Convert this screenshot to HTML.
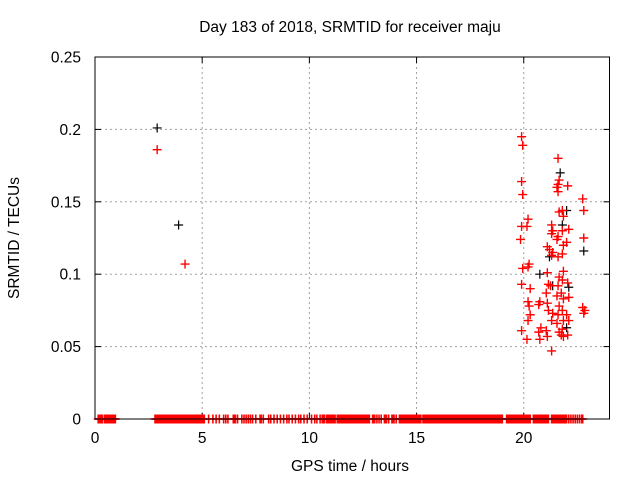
<!DOCTYPE html>
<html><head><meta charset="utf-8">
<style>
html,body{margin:0;padding:0;background:#fff;}
svg{display:block;font-family:"Liberation Sans",sans-serif;}
</style></head>
<body>
<svg id="chart" width="640" height="480" viewBox="0 0 640 480" xmlns="http://www.w3.org/2000/svg">
<rect x="0" y="0" width="640" height="480" fill="#fff"/>
<text x="350" y="32" font-size="15.5" text-anchor="middle">Day 183 of 2018, SRMTID for receiver maju</text>
<text transform="translate(19,238) rotate(-90)" font-size="15.5" text-anchor="middle">SRMTID / TECUs</text>
<text x="350" y="471" font-size="15.5" text-anchor="middle">GPS time / hours</text>
<g id="grid"></g>
<g id="xticks"></g>
<g id="yticks"></g>
<g id="zeroSeries"></g>
<g id="blackSeries"></g>
<g id="redSeries"></g>
<rect x="95" y="57" width="514.5" height="362" fill="none" stroke="#000" stroke-width="1"/>
</svg>
<script>
const xTickVals = [0, 5, 10, 15, 20];
const xTickLabels = ["0", "5", "10", "15", "20"];
const yTickVals = [0, 0.05, 0.1, 0.15, 0.2, 0.25];
const yTickLabels = ["0", "0.05", "0.1", "0.15", "0.2", "0.25"];

const zeroTimes = [0.15,0.2,0.25,0.3,0.35,0.45,0.5,0.55,0.6,0.65,0.7,0.75,0.8,0.85,0.9,0.95,
2.8,2.85,2.9,2.95,3.0,3.05,3.1,3.15,3.2,3.25,3.3,3.35,3.4,3.45,3.5,3.55,3.6,3.65,3.7,3.75,3.8,3.85,3.9,3.95,4.0,4.05,4.1,4.15,4.2,4.25,4.3,4.35,4.4,4.45,4.5,4.55,4.6,4.65,4.7,4.75,4.8,4.85,4.9,4.95,5.0,5.05,5.1,
5.3,5.5,5.65,5.8,6.0,6.1,6.2,6.45,6.5,6.55,6.65,6.85,6.95,7.05,7.15,7.25,7.35,7.5,7.7,7.75,7.85,8.1,8.2,8.35,8.5,8.65,8.8,8.95,9.05,9.2,9.35,9.5,9.6,9.75,9.9,10.1,10.25,10.35,10.5,10.6,10.65,10.7,10.8,10.85,10.9,10.95,11.0,11.05,11.1,11.15,11.2,
11.3,11.35,11.4,11.45,11.5,11.55,11.6,11.65,11.7,11.75,11.8,11.85,11.9,11.95,12.0,12.05,12.1,12.15,12.2,12.25,12.3,12.35,12.4,12.45,12.5,12.55,12.6,12.65,12.7,12.75,12.8,12.95,13.0,13.05,13.15,13.25,13.35,13.5,13.55,13.6,13.7,13.85,13.9,13.95,14.05,14.2,14.25,14.3,14.35,14.4,14.45,14.5,14.55,14.6,14.65,14.7,14.75,14.8,14.85,14.9,14.95,15.0,15.05,15.1,15.15,15.2,
15.3,15.35,15.4,15.45,15.5,15.55,15.6,15.65,15.7,15.75,15.8,15.85,15.9,15.95,16.0,16.05,16.1,16.15,16.2,16.25,16.3,16.35,16.4,16.45,16.5,16.55,16.6,16.65,16.7,16.75,16.8,16.85,16.9,16.95,17.0,17.05,17.1,17.15,17.2,17.25,17.3,17.35,17.4,17.45,17.5,17.55,17.6,17.65,17.7,17.75,17.8,17.85,17.9,17.95,18.0,18.05,18.1,18.15,18.2,18.25,18.3,18.35,18.4,18.45,18.5,18.55,18.6,18.65,18.7,18.75,18.8,18.85,18.9,18.95,19.0,
19.2,19.25,19.3,19.35,19.4,19.45,19.5,19.55,19.6,19.65,19.7,19.75,19.8,19.85,19.9,19.95,20.0,20.05,20.1,20.15,20.2,20.25,20.3,20.45,20.5,20.55,20.6,20.65,20.7,20.75,20.8,20.85,20.9,20.95,21.0,21.05,21.1,21.15,21.3,21.35,21.4,21.45,21.5,21.55,21.6,21.65,21.7,21.75,21.8,21.85,21.9,21.95,22.0,22.1,22.2,22.3,22.4,22.5,22.6,22.7,22.75];

const redTimes = [2.9,4.2,
19.9,19.95,19.9,19.95,19.9,19.85,19.95,19.9,19.9,
20.2,20.15,20.25,20.2,20.3,20.2,20.25,20.3,20.2,20.15,
20.75,20.7,20.8,20.7,20.75,
21.1,21.15,21.05,21.1,21.15,21.05,21.1,21.1,21.2,
21.3,21.35,21.3,21.35,21.3,21.25,21.35,21.3,21.3,
21.6,21.65,21.6,21.55,21.6,21.65,21.6,21.55,21.6,21.65,21.6,21.55,21.65,21.6,21.55,21.65,
21.8,21.85,21.8,21.85,21.8,21.85,21.8,21.75,21.85,21.8,21.85,21.8,21.75,21.85,
22.05,22.1,22.0,22.05,22.1,22.0,22.1,22.05,
22.75,22.8,22.8,22.75,22.8,22.85];
const redValues = [0.186,0.107,
0.195,0.189,0.164,0.155,0.133,0.124,0.104,0.093,0.061,
0.138,0.133,0.107,0.105,0.090,0.081,0.078,0.072,0.068,0.055,
0.081,0.079,0.063,0.060,0.055,
0.101,0.093,0.087,0.080,0.075,0.061,0.057,0.119,0.117,
0.134,0.130,0.128,0.115,0.113,0.092,0.073,0.068,0.047,
0.180,0.165,0.162,0.160,0.157,0.143,0.126,0.124,0.112,0.098,0.092,0.085,0.078,0.072,0.066,0.060,
0.144,0.140,0.130,0.120,0.114,0.102,0.096,0.087,0.083,0.075,0.068,0.062,0.058,0.057,
0.161,0.131,0.122,0.094,0.084,0.072,0.068,0.058,
0.152,0.144,0.125,0.077,0.073,0.075];

const blackTimes = [2.9,3.9,20.75,21.2,21.35,21.7,21.8,22.0,22.1,22.0,22.8];
const blackValues = [0.201,0.134,0.100,0.112,0.092,0.170,0.134,0.144,0.091,0.063,0.116];

const X0 = 95, X1 = 609.5, Y0 = 419, Y1 = 57, XMAX = 24, YMAX = 0.25;
const sx = v => X0 + v / XMAX * (X1 - X0);
const sy = v => Y0 - v / YMAX * (Y0 - Y1);
const NS = "http://www.w3.org/2000/svg";
function mk(tag, attrs, parent) {
  const e = document.createElementNS(NS, tag);
  for (const k in attrs) e.setAttribute(k, attrs[k]);
  parent.appendChild(e);
  return e;
}
const grid = document.getElementById('grid');
const xg = document.getElementById('xticks');
const yg = document.getElementById('yticks');

xTickVals.forEach((v, i) => {
  const x = sx(v);
  if (v > 0) {
    const g = mk('line', {x1: x, x2: x, y1: Y1, y2: Y0, stroke: '#a0a0a0', 'stroke-dasharray': '2,3', 'stroke-width': 1}, grid);
    
    
  }
  const t1 = mk('line', {x1: x, x2: x, y1: Y0, y2: Y0 - 6, stroke: '#000'}, xg);
  
  
  const t2 = mk('line', {x1: x, x2: x, y1: Y1, y2: Y1 + 6, stroke: '#000'}, xg);
  
  
  const l = mk('text', {x: x, y: Y0 + 24, 'font-size': 15.5, 'text-anchor': 'middle'}, xg);
  l.textContent = xTickLabels[i];
  
  
});
yTickVals.forEach((v, i) => {
  const y = sy(v);
  if (v > 0 && v < YMAX) {
    const g = mk('line', {x1: X0, x2: X1, y1: y, y2: y, stroke: '#a0a0a0', 'stroke-dasharray': '2,3', 'stroke-width': 1}, grid);
    
    
  }
  const t1 = mk('line', {x1: X0, x2: X0 + 6, y1: y, y2: y, stroke: '#000'}, yg);
  
  
  const t2 = mk('line', {x1: X1, x2: X1 - 6, y1: y, y2: y, stroke: '#000'}, yg);
  
  
  const l = mk('text', {x: X0 - 14, y: y + 5.5, 'font-size': 15.5, 'text-anchor': 'end'}, yg);
  l.textContent = yTickLabels[i];
  
  
});
function cross(parent, x, y, color, name, w) {
  const p = mk('path', {d: `M${x-4.5},${y}h9M${x},${y-4.5}v9`, stroke: color, 'stroke-width': w, fill: 'none'}, parent);
  
  
}
const zg = document.getElementById('zeroSeries');
zeroTimes.forEach(t => cross(zg, sx(t), sy(0), '#ff0000', 'zero-point', 1.6));
const bg = document.getElementById('blackSeries');
blackTimes.forEach((t, i) => cross(bg, sx(t), sy(blackValues[i]), '#000000', 'black-point', 1.2));
const rg = document.getElementById('redSeries');
redTimes.forEach((t, i) => cross(rg, sx(t), sy(redValues[i]), '#ff0000', 'red-point', 1.4));
</script>
</body></html>
